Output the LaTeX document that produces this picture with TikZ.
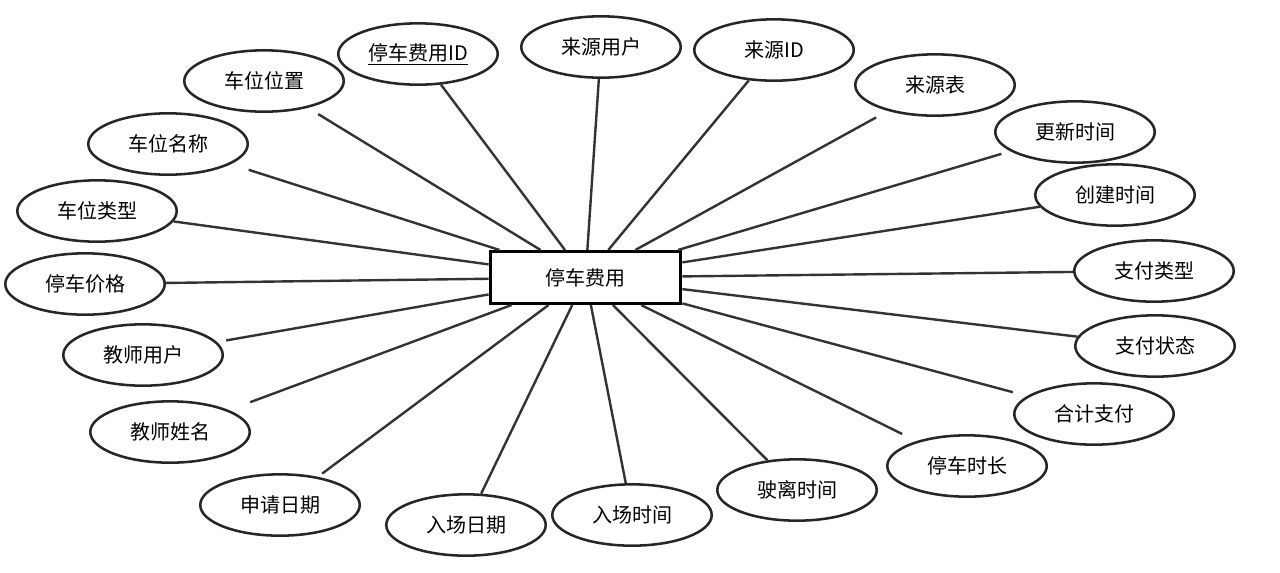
\documentclass[tikz,border=0pt]{standalone}
\usepackage{fontspec}
\setmainfont{Noto Sans CJK SC}
\usetikzlibrary{shapes.geometric}
\begin{document}
\begin{tikzpicture}[x=0.75pt,y=-0.75pt,
  attr/.style={ellipse,draw=black!85,line width=1.9pt,minimum width=119.6pt,minimum height=46pt,inner sep=0pt,font=\fontsize{15pt}{18pt}\selectfont},
  entity/.style={rectangle,draw=black,line width=2.3pt,minimum width=143pt,minimum height=39pt,inner sep=0pt,font=\fontsize{15pt}{18pt}\selectfont},
  link/.style={draw=black!80,line width=1.8pt}]
\useasboundingbox (0,0) rectangle (1280,572);
\node[entity] (c) at (585.5,277.5) {停车费用};
\node[attr] (a1) at (418,54) {\underline{停车费用ID}};
\node[attr] (a2) at (601,47) {来源用户};
\node[attr] (a3) at (774,50) {来源ID};
\node[attr] (a4) at (935,85) {来源表};
\node[attr] (a5) at (1075,132) {更新时间};
\node[attr] (a6) at (1115,195) {创建时间};
\node[attr] (a7) at (1154,271) {支付类型};
\node[attr] (a8) at (1155,346) {支付状态};
\node[attr] (a9) at (1094,414) {合计支付};
\node[attr] (a10) at (967,466) {停车时长};
\node[attr] (a11) at (797,490) {驶离时间};
\node[attr] (a12) at (632,515) {入场时间};
\node[attr] (a13) at (466,525) {入场日期};
\node[attr] (a14) at (280,505) {申请日期};
\node[attr] (a15) at (170,432) {教师姓名};
\node[attr] (a16) at (143,355) {教师用户};
\node[attr] (a17) at (85,284) {停车价格};
\node[attr] (a18) at (97,211) {车位类型};
\node[attr] (a19) at (168,144) {车位名称};
\node[attr] (a20) at (264,81) {车位位置};
\draw[link] (a1) -- (c);
\draw[link] (a2) -- (c);
\draw[link] (a3) -- (c);
\draw[link,shorten <=10pt] (a4) -- (c);
\draw[link,shorten <=7pt] (a5) -- (c);
\draw[link] (a6) -- (c);
\draw[link] (a7) -- (c);
\draw[link] (a8) -- (c);
\draw[link,shorten <=11pt] (a9) -- (c);
\draw[link,shorten <=12pt] (a10) -- (c);
\draw[link] (a11) -- (c);
\draw[link] (a12) -- (c);
\draw[link] (a13) -- (c);
\draw[link,shorten <=4pt] (a14) -- (c);
\draw[link,shorten <=17pt] (a15) -- (c);
\draw[link,shorten <=7pt] (a16) -- (c);
\draw[link] (a17) -- (c);
\draw[link] (a18) -- (c);
\draw[link,shorten <=14pt] (a19) -- (c);
\draw[link,shorten <=9pt] (a20) -- (c);
\end{tikzpicture}
\end{document}
